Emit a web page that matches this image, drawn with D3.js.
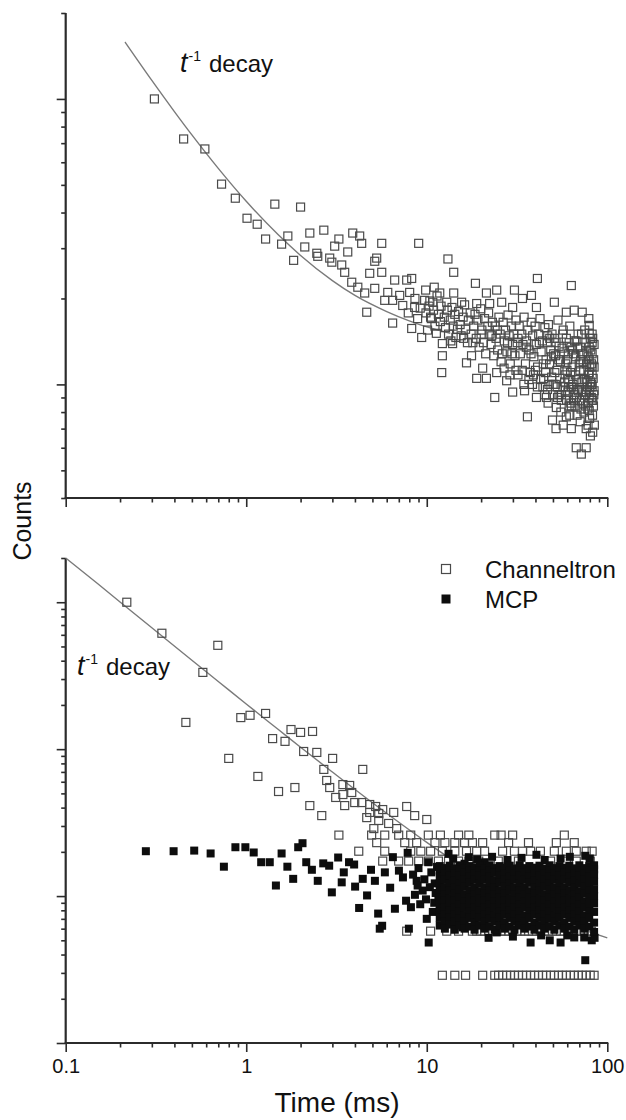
<!DOCTYPE html>
<html><head><meta charset="utf-8">
<script src="https://cdn.jsdelivr.net/npm/d3@7"></script>
<style>body{margin:0;background:#fff;}svg{display:block;font-family:"Liberation Sans",Arial,sans-serif;}</style>
</head><body><svg id="chart" width="626" height="1120"></svg>
<script>
// ---------- data ----------
const xMajorTicks = [0.1, 1, 10, 100];
const xTickLabels = ["0.1", "1", "10", "100"];
const xMinorTicks = [0.2,0.3,0.4,0.5,0.6,0.7,0.8,0.9,2,3,4,5,6,7,8,9,20,30,40,50,60,70,80,90];
const topMajorTicks = [100, 1000];
const topMinorTicks = [40,50,60,70,80,90,200,300,400,500,600,700,800,900,2000];
const botMajorTicks = [0.1, 1, 10, 100];
const botMinorTicks = [0.2,0.3,0.4,0.5,0.6,0.7,0.8,0.9,2,3,4,5,6,7,8,9,20,30,40,50,60,70,80,90,200];
const seriesNames = ["Channeltron", "MCP"];
const axisTitleX = "Time (ms)";
const axisTitleY = "Counts";

// top panel: Channeltron [time ms, counts]
const channeltronTop = [
[0.31,1000],[0.45,724],[0.59,668],[0.73,503],[0.87,449],[1.44,428],[2.0,418],[1.01,382],[1.15,364],[1.28,323],[1.70,331],[1.57,310],[2.25,339],[2.11,303],[1.83,272],[2.46,288],
[2.69,347],[3.26,323],[3.89,339],[4.25,331],[3.09,305],[4.36,312],[5.63,312],[9.02,312],[3.65,291],[2.49,281],[2.90,277],[5.28,277],[13.1,275],
[2.98,268],[3.38,262],[3.51,247],[5.15,270],[14.1,247],[4.83,245],[5.63,247],[6.64,232],[7.74,232],[8.25,235],[3.84,228],[4.15,219],[4.53,209],[5.15,217],[6.08,210],[7.08,205],[8.04,210],[9.86,214],[11.0,219],[11.8,209],[14.1,209],[18.6,226],[21.4,209],[24.4,214],[30.6,214],[41.0,235],[63.2,222],[33.9,200],[38.0,205],
[4.65,179],[5.85,197],[6.47,197],[7.36,189],[8.57,186],[9.73,197],[10.8,194],[12.9,194],[15.6,194],[18.9,192],[22.3,192],[26.0,194],[29.9,186],[40.5,186],[50.9,194],[59.3,179],[65.6,182],[72.6,179],
[6.47,164],[8.25,157],[9.37,146],[10.1,155],[11.3,151],[12.2,139],[12.2,126],[12.1,110],[13.9,139],[16.6,119],[17.7,126],[20.4,114],[18.9,105],[21.4,105],[23.8,90],[24.4,110],[27.7,103],[29.9,94],[34.8,95],[36.1,77],[40.5,90],[46.0,90],[46.6,96],[49.7,75],[52.2,83],[59.3,77],[63.2,70],[76.4,70],[67.3,60],[76.4,60],[71.8,57],
[79.4,81],[79.4,90],[79.4,95],[79.4,110],[79.4,122],[79.4,135],[79.4,151],[79.4,161],
[8.6,200],[9.2,185],[9.9,178],[10.5,172],[8.9,170],[10.3,188],[7.9,178],
[10.4,196],[10.6,170],[10.9,182],[11.1,160],[11.4,204],[11.6,176],[11.9,166],[12.0,188],
[12.5,172],[12.7,158],[13.0,182],[13.2,150],[13.5,168],[13.8,186],[14.0,160],[14.3,176],[14.5,146],
[15.0,180],[15.3,162],[15.5,148],[15.9,172],[16.2,190],[16.4,156],[16.8,140],[17.0,168],[17.4,178],[17.6,150],
[18.2,160],[18.5,176],[18.8,145],[19.2,168],[19.5,135],[19.9,184],[20.2,155],[20.6,140],[20.9,170],[21.2,128],
[22.0,178],[22.4,150],[22.7,138],[23.1,165],[23.5,126],[23.9,160],[24.2,145],[24.7,132],[25.1,172],[25.5,150],[25.8,120],
[26.5,165],[26.9,142],[27.3,155],[27.8,130],[28.2,175],[28.6,148],[29.0,118],[29.5,160],[29.9,138],[30.3,150],[30.8,126],[31.2,168],
[32.0,145],[32.5,160],[33.0,128],[33.6,150],[34.1,138],[34.6,172],[35.2,118],[35.7,142],[36.3,155],[36.9,132],[37.4,110],[37.9,165],
[38.6,148],[39.2,125],[39.8,160],[40.4,138],[41.1,115],[41.7,150],[42.4,170],[43.0,130],[43.7,142],[44.4,105],[45.1,158],[45.8,122],
[46.5,140],[47.2,162],[47.9,118],[48.6,132],[49.4,150],[50.1,100],[50.9,145],[51.7,126],[52.5,112],[53.3,168],[54.1,136],[55.0,120],[55.8,92],[56.6,150],
[57.5,130],[58.4,108],[59.3,145],[60.2,122],[61.1,98],[62.0,160],[63.0,135],[63.9,115],[64.9,88],[65.9,142],[66.9,125],[67.9,104],[68.9,150],[69.9,118],
[70.9,135],[71.9,96],[72.9,128],[74.0,112],[75.0,155],[76.1,140],[77.2,102],[78.3,125],[79.0,170],[80.0,115],[81.0,132],[82.0,100],[83.0,145],[84.0,122],
[82.4,128],[82.4,116],[82.4,108],[82.4,98],[82.4,88],[82.4,150],[82.4,140],
[47.0,86],[55.3,80],[61.5,84],[68.0,78],[73.5,86],[78.0,82],[66.0,92],[58.5,95],[53.0,90],[44.0,98],[38.5,100],[32.0,108],
[45.5,110],[48.0,145],[50.5,128],[52.0,140],[54.5,105],[57.0,155],[59.8,112],[61.5,140],[63.5,98],[65.0,128],[66.5,108],[68.5,135],[70.5,112],[72.0,150],[73.5,120],[75.5,92],[77.0,130],[78.8,108],[80.5,145],[81.8,118],[83.5,105],[84.5,138],[84.5,95],[84.5,115],[83.2,88],[80.8,102],[76.8,118],[74.6,104],[71.2,122],[69.0,95],[67.2,142],[64.2,132],[62.6,110],[60.8,128],[58.9,118],[56.2,134],[53.8,122],[51.2,110],[49.0,125],[46.8,148],[44.2,118],[42.0,140],[40.0,112],[37.8,128],[35.6,135],[33.8,112],[31.7,140],[29.6,128],[28.0,140],[26.2,128],[24.6,155],[22.9,148],[21.8,160],[20.0,150],[18.0,140],[16.0,145],[14.8,156],[13.6,142],
[50.0,92],[52.8,98],[55.6,88],[58.0,102],[60.5,94],[62.8,86],[64.5,100],[66.2,84],[68.2,96],[70.2,88],[72.4,102],[74.2,80],[76.5,94],[78.6,86],[80.2,98],[82.8,78],[84.2,92],[83.8,84],[81.5,90],[79.8,76],[77.6,98],[75.8,84],[73.2,94],[71.5,82],[69.5,104],[67.5,90],[65.2,96],[63.2,84],[61.2,104],[59.5,88],[56.8,98],[54.0,92],[51.5,100],[49.2,106],[47.5,100],[45.0,92],[42.8,104],[41.0,98],[39.0,108],[36.8,104],[34.5,100],[31.2,112],[28.9,108],[26.8,114],[84.8,72],[83.0,68],[80.6,66],[78.2,72],[70.8,74],[62.0,78],[57.0,72],[52.0,70]
];
// top panel: t^-1 fit [time ms, counts]
const fitTop = [[0.213,1583],[0.3,1161],[0.4,903],[0.5,748],[0.7,571],[1.0,438],[1.5,335],[2.0,283],[3.0,231],[4.0,205],[6.0,180],[8.0,167],[10,159],[13.5,151]];

// bottom panel: Channeltron scattered points [time ms, counts]
const channeltronBottom = [
[0.218,100],[0.341,61.5],[0.696,50.9],[0.575,33.3],[0.463,15.2],[0.933,16.4],[1.05,17.0],[1.28,17.5],[1.77,13.6],[2.0,13.0],[2.33,13.2],[1.40,11.8],[1.64,11.3],[2.08,9.64],[2.46,9.50],[0.80,8.65],[1.16,6.52],[1.51,5.15],[1.86,5.48],
[3.01,8.65],[2.69,7.28],[4.42,7.28],[2.79,6.12],[2.90,5.48],[3.74,5.66],[3.13,4.69],[3.43,4.91],[3.84,5.07],[3.99,4.33],[4.36,4.33],[2.25,4.13],[3.51,4.13],[4.83,4.20],[5.21,4.07],[2.62,3.53],[4.83,3.71],[6.56,3.71],[7.74,4.07],[8.57,3.53],[10.0,3.32],
[3.43,5.74],[5.42,3.65],[5.70,3.88],[4.65,3.42],[5.42,3.27],[6.15,3.12],[6.81,2.88],[5.09,2.88],[13.2,0.866]
];
// bottom panel: Channeltron quantised rows (count level, times)
const channeltronRowLevels = [2.60, 2.31, 2.02, 1.73, 0.577, 0.289];
const channeltronRowTimes = [
[3.26,4.95,5.85,6.99,8.15,10.2,11.9,15.0,17.1,23.8,25.8,29.9,57.8],
[5.28,7.55,8.79,11.1,12.6,14.3,16.2,17.9,20.4,28.4,36.6,52.2,65.6],
[4.20,5.85,8.15,9.27,10.5,12.2,14.3,16.6,18.9,20.9,26.3,30.6,33.9,37.6,42.6,50.9,59.3,67.3,76.4,82.4],
[5.70,6.99,7.94,9.02,10.2,11.6,13.2,15.0,17.1,19.4,24.9,32.2,48.5,59.3,67.3,80.4],
[7.74,10.5,12.9,15.0,17.9,18.9,19.9,20.9,22.0,23.2,24.4,25.8,27.0,28.4,29.9,31.6,33.1,34.8,36.6,38.5,40.5,42.6,44.9,47.3,49.7,52.2,55.1,57.8,60.8,64.1,67.3,71.0,74.5,78.3,81.5],
[12.2,14.3,16.4,20.4,23.8,25.0,26.3,27.7,29.1,30.6,32.2,33.9,35.7,37.6,39.5,41.6,43.8,46.0,48.5,50.9,53.7,56.4,59.3,62.5,65.6,69.2,72.6,76.4,80.4,84.5]
];
// bottom panel: MCP scattered points [time ms, counts]
const mcpBottom = [
[0.278,2.02],[0.396,2.02],[0.515,2.04],[0.635,1.95],[0.752,1.585],[0.871,2.15],[0.989,2.15],[1.10,1.98],[1.21,1.70],[1.35,1.70],[1.57,1.95],[1.69,1.585],[1.46,1.18],[1.82,1.31],[1.94,2.15],[2.05,2.29],[2.15,1.70],[2.31,1.51],[2.49,1.27],[2.67,1.67],[2.88,1.61],[3.23,1.83],[2.98,1.06],[3.38,1.24],[3.47,1.45],[3.71,1.70],[3.96,1.64],[4.01,1.16],[4.22,0.83],[4.42,1.31],[4.67,1.01],[4.91,1.51],[5.16,1.27],[5.38,0.76],[5.66,0.628],[5.49,0.60],[5.86,1.45],[6.27,1.14],[6.49,1.84],[6.66,0.82],[7.01,1.49],[7.38,1.34],[7.68,0.93],[7.84,1.97],[7.96,0.60],[8.17,0.84],[8.79,1.27],[9.49,1.09],[10.25,0.483],[10.2,1.70],[11.07,1.22],[11.6,0.96],[12.2,1.42],[13.2,1.94],[13.6,0.76],[14.3,0.649],[15.0,0.80],[15.8,0.612],[16.2,1.66],[17.1,1.84],[18.4,0.716],[20.9,1.70],[24.4,0.566],[26.3,0.662],[32.2,0.649],[37.6,0.483],[40.5,1.91],[55.1,0.483],[55.1,1.80],[65.6,0.523],[74.5,0.523],[75.5,0.366],[75.5,1.88],
[8.4,1.40],[8.6,1.02],[9.0,1.55],[9.2,0.88],[9.7,1.30],[9.9,0.95],[10.4,1.15],[10.6,1.45],[10.8,0.78],[11.2,1.05],[11.4,1.58],[8.9,1.18],[10.0,0.70],[11.0,0.90],
[14.0,1.80],[19.0,1.78],[23.0,1.85],[28.0,1.76],[33.5,1.82],[45.0,1.76],[62.0,1.85],[80.0,1.80],[22.0,0.52],[30.0,0.53],[43.0,0.54],[48.0,0.50],[60.0,0.54],[82.0,0.50],[85.0,0.52]
];
// bottom panel: MCP dense cloud (per time column, counts read)
const mcpDenseTimes = [11.8,12.6,13.4,14.3,15.2,16.2,17.3,18.4,19.6,20.9,22.3,23.8,25.3,27.0,28.8,30.6,32.7,34.8,37.0,39.5,42.1,44.9,47.9,50.9,54.3,57.8,61.6,65.6,70.0,74.5,79.4,84.5];
const mcpDenseCounts = [
[1.60,1.49,1.36,1.22,1.09,0.98,0.88,0.79,0.71,0.63],[1.55,1.43,1.29,1.15,1.03,0.93,0.83,0.75,0.67,0.60],
[1.61,1.50,1.37,1.21,1.09,0.97,0.88,0.80,0.71,0.64],[1.54,1.43,1.28,1.15,1.04,0.93,0.84,0.75,0.67,0.59],
[1.62,1.51,1.37,1.22,1.10,0.98,0.87,0.79,0.70,0.63],[1.55,1.44,1.29,1.16,1.03,0.92,0.83,0.74,0.67,0.60],
[1.60,1.49,1.36,1.23,1.09,0.98,0.88,0.79,0.71,0.62],[1.56,1.43,1.30,1.15,1.03,0.93,0.84,0.75,0.66,0.59],
[1.61,1.50,1.37,1.22,1.08,0.97,0.88,0.80,0.71,0.63],[1.54,1.42,1.29,1.14,1.04,0.93,0.83,0.75,0.67,0.60],
[1.62,1.50,1.36,1.22,1.09,0.98,0.87,0.79,0.70,0.62],[1.55,1.44,1.28,1.15,1.03,0.92,0.83,0.74,0.67,0.59],
[1.60,1.49,1.37,1.23,1.09,0.98,0.88,0.79,0.71,0.63],[1.56,1.43,1.29,1.16,1.04,0.93,0.84,0.75,0.66,0.60],
[1.61,1.50,1.36,1.21,1.10,0.97,0.88,0.80,0.71,0.62],[1.54,1.42,1.30,1.15,1.03,0.93,0.83,0.75,0.67,0.59],
[1.62,1.49,1.37,1.22,1.09,0.98,0.87,0.79,0.70,0.63],[1.55,1.44,1.29,1.14,1.03,0.92,0.84,0.74,0.67,0.60],
[1.60,1.50,1.36,1.23,1.08,0.98,0.88,0.79,0.71,0.62],[1.56,1.43,1.28,1.15,1.04,0.93,0.83,0.75,0.66,0.59],
[1.61,1.49,1.37,1.22,1.09,0.97,0.88,0.80,0.71,0.63],[1.54,1.43,1.29,1.16,1.03,0.93,0.84,0.75,0.67,0.60],
[1.62,1.50,1.36,1.21,1.10,0.98,0.87,0.79,0.70,0.62],[1.55,1.42,1.30,1.15,1.03,0.92,0.83,0.74,0.67,0.59],
[1.60,1.49,1.37,1.22,1.09,0.98,0.88,0.79,0.71,0.63],[1.56,1.44,1.29,1.14,1.04,0.93,0.84,0.75,0.66,0.60],
[1.61,1.50,1.36,1.23,1.09,0.97,0.88,0.80,0.71,0.62],[1.54,1.43,1.28,1.15,1.03,0.93,0.83,0.75,0.67,0.59],
[1.62,1.49,1.37,1.22,1.08,0.98,0.87,0.79,0.70,0.63],[1.55,1.43,1.29,1.16,1.04,0.92,0.84,0.74,0.67,0.60],
[1.60,1.50,1.36,1.22,1.09,0.98,0.88,0.79,0.71,0.62],[1.62,1.52,1.40,1.25,1.11,1.00,0.89,0.78,0.66,0.57]
];
// bottom panel: t^-1 fit [time ms, counts]
const fitBottom = [[0.1,200],[0.15,134],[0.2,100.3],[0.3,67],[0.5,40.3],[0.7,28.9],[1,20.3],[1.5,13.65],[2,10.3],[3,6.99],[5,4.32],[7,3.18],[10,2.32],[15,1.65],[20,1.32],[30,0.987],[50,0.72],[70,0.606],[100,0.52]];

// ---------- drawing ----------
const svg = d3.select("#chart");
svg.append("rect").attr("width",626).attr("height",1120).attr("fill","#fff");
const X = d3.scaleLog().domain([0.1,100]).range([65.7,607.3]);
const Ytop = d3.scaleLog().domain([40,2000]).range([498,13]);
const Ybot = d3.scaleLog().domain([0.1,200]).range([1043,558]);
const axisColor = "#2b2b2b";

function drawAxes(Y, yMajor, yMinor, withLabels){
  const x0 = X.range()[0], yb = Y.range()[0];
  const g = svg.append("g").attr("color", axisColor);
  const ly = (sc, vals, size) => g.append("g").attr("transform",`translate(${x0},0)`)
      .call(d3.axisLeft(sc).tickValues(vals).tickSize(size).tickFormat(""))
      .call(s=>s.select(".domain").remove())
      .call(s=>s.selectAll("line").attr("stroke-width",1.6));
  ly(Y, yMajor, 9); ly(Y, yMinor, 4.5);
  const lx = (vals, size, fmt) => g.append("g").attr("transform",`translate(0,${yb})`)
      .call(d3.axisBottom(X).tickValues(vals).tickSize(size).tickPadding(7).tickFormat(fmt))
      .call(s=>s.select(".domain").remove())
      .call(s=>s.selectAll("line").attr("stroke-width",1.6));
  const lab = lx(xMajorTicks, 9, withLabels ? (d,i)=>xTickLabels[i] : "");
  lab.selectAll("text").attr("font-size",20).attr("font-family","'Liberation Sans',Arial,sans-serif").attr("fill","#111");
  lx(xMinorTicks, 4.5, "");
  g.append("line").attr("x1",x0).attr("x2",x0).attr("y1",Y.range()[1]).attr("y2",yb+1)
    .attr("stroke",axisColor).attr("stroke-width",2.2);
  g.append("line").attr("x1",x0-1).attr("x2",X.range()[1]+1).attr("y1",yb).attr("y2",yb)
    .attr("stroke",axisColor).attr("stroke-width",2.2);
}
drawAxes(Ytop, topMajorTicks, topMinorTicks, false);
drawAxes(Ybot, botMajorTicks, botMinorTicks, true);

const lineGen = Y => d3.line().x(d=>X(d[0])).y(d=>Y(d[1])).curve(d3.curveMonotoneX);
const S = 8;
function openSquares(data, Y){
  svg.append("g").selectAll("rect").data(data).join("rect")
    .attr("x",d=>X(d[0])-S/2).attr("y",d=>Y(d[1])-S/2).attr("width",S).attr("height",S)
    .attr("fill","none").attr("stroke","#4a4a4a").attr("stroke-width",1.2);
}
function filledSquares(data, Y){
  svg.append("g").selectAll("rect").data(data).join("rect")
    .attr("x",d=>X(d[0])-S/2).attr("y",d=>Y(d[1])-S/2).attr("width",S).attr("height",S)
    .attr("fill","#0d0d0d");
}

// top panel
svg.append("path").datum(fitTop).attr("d",lineGen(Ytop)).attr("fill","none").attr("stroke","#7a7a7a").attr("stroke-width",1.4);
openSquares(channeltronTop, Ytop);

// bottom panel
svg.append("path").datum(fitBottom).attr("d",lineGen(Ybot)).attr("fill","none").attr("stroke","#7a7a7a").attr("stroke-width",1.4);
const rowPoints = [];
channeltronRowTimes.forEach((ts,i)=>ts.forEach(t=>rowPoints.push([t, channeltronRowLevels[i]])));
openSquares(channeltronBottom.concat(rowPoints), Ybot);
const densePoints = [];
mcpDenseTimes.forEach((t,i)=>mcpDenseCounts[i].forEach(c=>densePoints.push([t,c])));
filledSquares(mcpBottom.concat(densePoints), Ybot);

// annotations
function decayLabel(x, y){
  const t = svg.append("text").attr("x",x).attr("y",y).attr("font-size",24).attr("fill","#111");
  t.append("tspan").attr("font-style","italic").attr("font-size",27).text("t");
  t.append("tspan").attr("font-size",14).attr("dy",-11).attr("dx",1).text("-1");
  t.append("tspan").attr("x",x+29).attr("dy",11).text("decay");
}
decayLabel(180, 72);
decayLabel(77, 675);

// legend
const legendY = [569, 599];
seriesNames.forEach((name,i)=>{
  svg.append("rect").attr("x",446-4.5).attr("y",legendY[i]-4.5).attr("width",9).attr("height",9)
    .attr("fill", i===0 ? "none" : "#0d0d0d").attr("stroke", i===0 ? "#4a4a4a" : "none").attr("stroke-width",1.2);
  svg.append("text").attr("x",485).attr("y",legendY[i]+8.5).attr("font-size",24).attr("fill","#111").text(name);
});

// axis titles
svg.append("text").attr("x",337).attr("y",1112).attr("text-anchor","middle").attr("font-size",28).attr("fill","#111").text(axisTitleX);
svg.append("text").attr("transform","translate(31,521) rotate(-90)").attr("text-anchor","middle").attr("font-size",25).attr("fill","#111").text(axisTitleY);
</script></body></html>
